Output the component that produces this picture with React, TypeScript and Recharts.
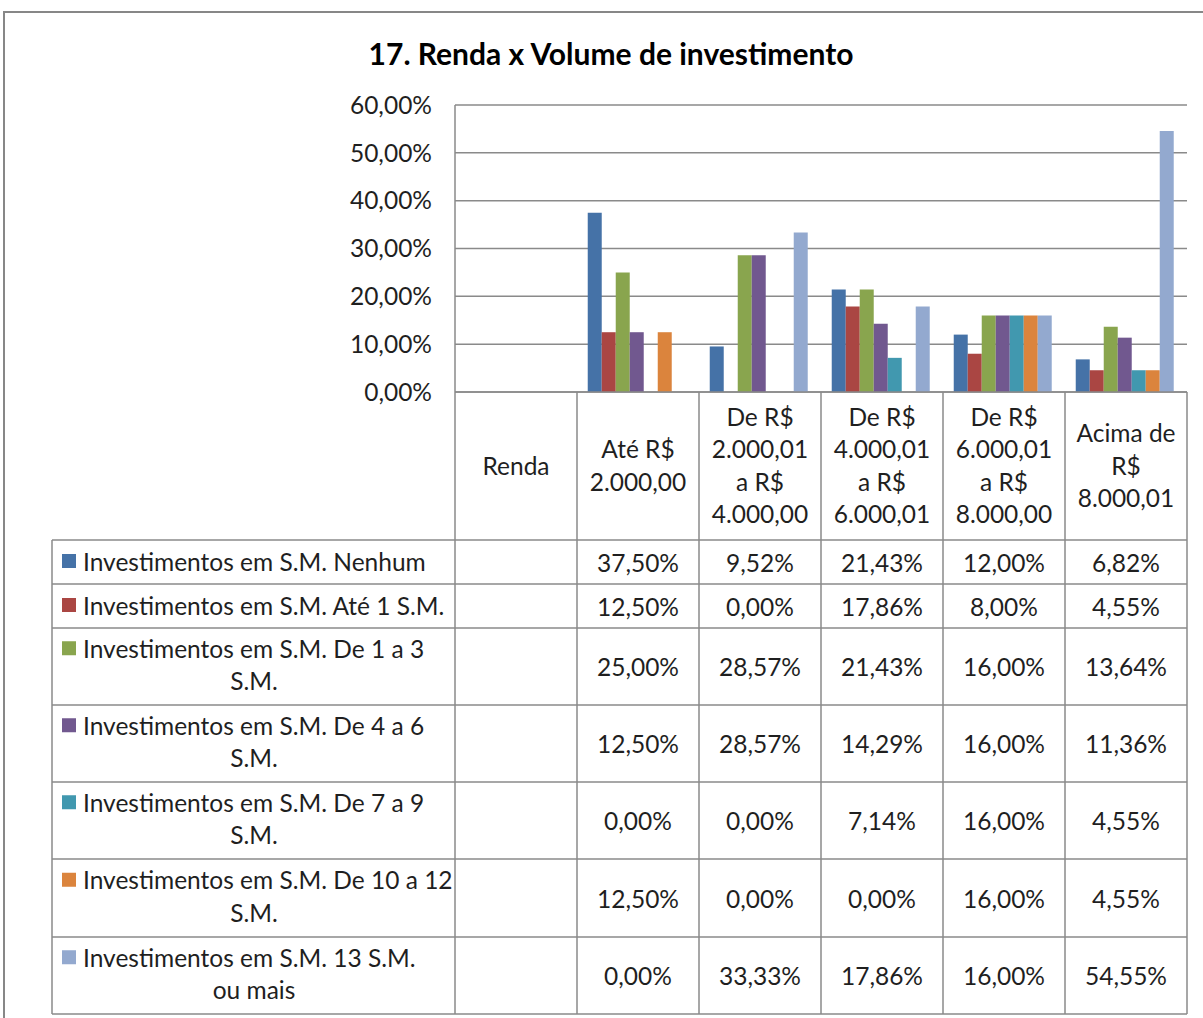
import React from 'react';
import { BarChart, Bar, XAxis, YAxis, CartesianGrid } from 'recharts';

// categorias de renda (a primeira, "Renda", não tem dados)
const categories = [
  'Renda',
  'Até R$ 2.000,00',
  'De R$ 2.000,01 a R$ 4.000,00',
  'De R$ 4.000,01 a R$ 6.000,01',
  'De R$ 6.000,01 a R$ 8.000,00',
  'Acima de R$ 8.000,01',
];

const categoryLines = [
  ['Renda'],
  ['Até R$', '2.000,00'],
  ['De R$', '2.000,01', 'a R$', '4.000,00'],
  ['De R$', '4.000,01', 'a R$', '6.000,01'],
  ['De R$', '6.000,01', 'a R$', '8.000,00'],
  ['Acima de', 'R$', '8.000,01'],
];

const seriesNames = [
  'Investimentos em S.M. Nenhum',
  'Investimentos em S.M. Até 1 S.M.',
  'Investimentos em S.M. De 1 a 3 S.M.',
  'Investimentos em S.M. De 4 a 6 S.M.',
  'Investimentos em S.M. De 7 a 9 S.M.',
  'Investimentos em S.M. De 10 a 12 S.M.',
  'Investimentos em S.M. 13 S.M. ou mais',
];

const seriesLabelLines = [
  ['Investimentos em S.M. Nenhum'],
  ['Investimentos em S.M. Até 1 S.M.'],
  ['Investimentos em S.M. De 1 a 3', 'S.M.'],
  ['Investimentos em S.M. De 4 a 6', 'S.M.'],
  ['Investimentos em S.M. De 7 a 9', 'S.M.'],
  ['Investimentos em S.M. De 10 a 12', 'S.M.'],
  ['Investimentos em S.M. 13 S.M.', 'ou mais'],
];

const seriesColors = ['#4572A7', '#AA4643', '#89A54E', '#71588F', '#4198AF', '#DB843D', '#93A9CF'];

const nenhum = [null, 37.5, 9.52, 21.43, 12.0, 6.82];
const ate1 = [null, 12.5, 0, 17.86, 8.0, 4.55];
const de1a3 = [null, 25.0, 28.57, 21.43, 16.0, 13.64];
const de4a6 = [null, 12.5, 28.57, 14.29, 16.0, 11.36];
const de7a9 = [null, 0, 0, 7.14, 16.0, 4.55];
const de10a12 = [null, 12.5, 0, 0, 16.0, 4.55];
const de13 = [null, 0, 33.33, 17.86, 16.0, 54.55];

const seriesValues = [nenhum, ate1, de1a3, de4a6, de7a9, de10a12, de13];

const yTicks = [0, 10, 20, 30, 40, 50, 60];

const data = categories.map((name, i) => {
  const row: any = { name };
  seriesValues.forEach((vals, s) => {
    row['s' + s] = vals[i];
  });
  return row;
});

const FONT = 'Lato, sans-serif';
const FONT_SIZE = 24.5;
const TEXT = '#1f1f1f';
const LINE = '#8a8a8a';
const HEADER_H = 148;
const rowHeights = [44, 44, 77, 77, 77, 78, 77];
const LEGEND_LEFT = 52;
const LINE_H = 32.5;

const fmt = (v: number) => v.toFixed(2).replace('.', ',') + '%';

function TableTick(props: any) {
  const { x, y, index } = props;
  const n = categories.length;
  const band = (props.width ?? 732) / n;
  const half = band / 2;
  const left = x - half;
  const right = x + half;
  const tableTop = y + HEADER_H;
  const rowTops: number[] = [];
  let acc = tableTop;
  rowHeights.forEach((h) => {
    rowTops.push(acc);
    acc += h;
  });
  const tableBottom = acc;
  const lines = categoryLines[index] || [];
  const headerMid = y + HEADER_H / 2;
  const textProps = { fontFamily: FONT, fontSize: FONT_SIZE, fill: TEXT };

  return (
    <g>
      {index === 0 && (
        <g>
          <line x1={left} x2={left} y1={y} y2={tableBottom} stroke={LINE} strokeWidth={1.5} />
          <line x1={LEGEND_LEFT} x2={LEGEND_LEFT} y1={tableTop} y2={tableBottom} stroke={LINE} strokeWidth={1.5} />
          {[...rowTops, tableBottom].map((ry, k) => (
            <line key={'h' + k} x1={LEGEND_LEFT} x2={left + n * band} y1={ry} y2={ry} stroke={LINE} strokeWidth={1.5} />
          ))}
          {seriesLabelLines.map((ls, r) => {
            const mid = rowTops[r] + rowHeights[r] / 2;
            const first = ls.length === 1 ? mid - 1 : mid - LINE_H / 2 - 2;
            return (
              <g key={'lg' + r}>
                <rect x={62} y={first - 7} width={14} height={14} fill={seriesColors[r]} />
                <text x={83} y={first} dominantBaseline="central" {...textProps}>{ls[0]}</text>
                {ls[1] && (
                  <text x={254} y={first + LINE_H} textAnchor="middle" dominantBaseline="central" {...textProps}>
                    {ls[1]}
                  </text>
                )}
              </g>
            );
          })}
        </g>
      )}
      <line x1={right} x2={right} y1={y} y2={tableBottom} stroke={LINE} strokeWidth={1.5} />
      {lines.map((l, k) => (
        <text
          key={'c' + k}
          x={x}
          y={headerMid + (k - (lines.length - 1) / 2) * LINE_H - 1}
          textAnchor="middle"
          dominantBaseline="central"
          {...textProps}
        >
          {l}
        </text>
      ))}
      {seriesValues.map((vals, r) =>
        vals[index] == null ? null : (
          <text
            key={'v' + r}
            x={x}
            y={rowTops[r] + rowHeights[r] / 2}
            textAnchor="middle"
            dominantBaseline="central"
            {...textProps}
          >
            {fmt(vals[index] as number)}
          </text>
        )
      )}
    </g>
  );
}

export default function App() {
  return (
    <div style={{ position: 'absolute', left: 0, top: 0, width: 1203, height: 1018, overflow: 'hidden', background: '#fff' }}>
      <div
        style={{
          position: 'absolute',
          left: 3,
          top: 11,
          width: 1300,
          height: 1100,
          border: '2px solid #878787',
        }}
      />
      <div
        style={{
          position: 'absolute',
          left: 0,
          top: 34,
          width: 1222,
          textAlign: 'center',
          fontFamily: FONT,
          fontWeight: 700,
          fontSize: 30,
          lineHeight: '38px',
          color: '#000',
        }}
      >
        17. Renda x Volume de investimento
      </div>
      <div style={{ position: 'absolute', left: 0, top: 0 }}>
        <BarChart
          width={1203}
          height={1018}
          data={data}
          margin={{ top: 105, right: 16, left: 355, bottom: 4 }}
          barCategoryGap="8.8%"
          barGap={0}
        >
          <CartesianGrid vertical={false} stroke={LINE} strokeWidth={1.5} />
          <YAxis
            width={100}
            domain={[0, 60]}
            ticks={yTicks}
            tickFormatter={(v: number) => fmt(v)}
            tickSize={0}
            tickMargin={23}
            tickLine={false}
            axisLine={{ stroke: LINE, strokeWidth: 1.5 }}
            tick={{ fontSize: FONT_SIZE, fill: TEXT, fontFamily: FONT }}
          />
          <XAxis
            dataKey="name"
            height={622}
            interval={0}
            tickSize={0}
            tickMargin={0}
            tickLine={false}
            axisLine={{ stroke: LINE, strokeWidth: 1.5 }}
            tick={<TableTick />}
          />
          {seriesNames.map((name, s) => (
            <Bar key={name} dataKey={'s' + s} name={name} fill={seriesColors[s]} isAnimationActive={false} />
          ))}
        </BarChart>
      </div>
    </div>
  );
}
